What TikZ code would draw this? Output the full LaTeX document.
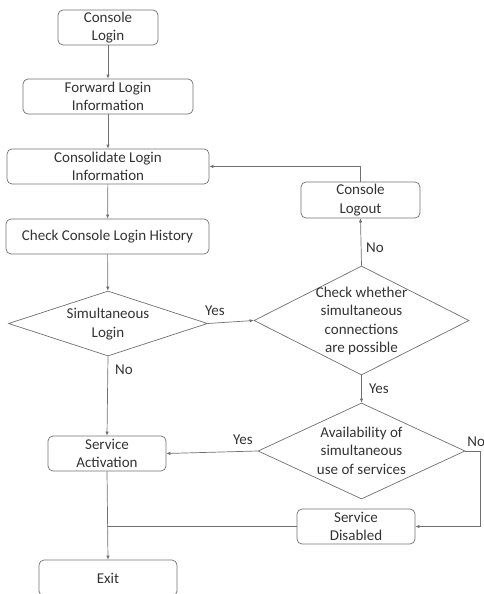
\documentclass[tikz,border=0pt]{standalone}
\usepackage{fontspec}
\setmainfont{Carlito}
\usetikzlibrary{shapes.geometric,arrows.meta}
\definecolor{lineg}{HTML}{707070}
\definecolor{textg}{HTML}{333333}
% text of a decision, kept out of the size of its diamond
\newcommand{\dtext}[1]{\makebox[0pt]{\raisebox{-0.3em}[0pt][0pt]{\begin{tabular}{@{}c@{}}#1\end{tabular}}}}
\begin{document}
\begin{tikzpicture}[x=1pt,y=-1pt, line width=0.7pt,
    font=\fontsize{15}{18.5}\selectfont, text=textg,
    stepbox/.style={draw=lineg, rounded corners=5pt, align=center, inner sep=0pt},
    choice/.style={draw=lineg, diamond, inner sep=0pt},
    flow/.style={draw=lineg, -{Latex[length=4pt,width=3.5pt]}}]
    % picture frame (bottom of Exit box is cut off)
    \useasboundingbox (0,0) rectangle (484,594);
    \clip (0,0) rectangle (484,594);

    % left column
    \node[stepbox, minimum width=100pt, minimum height=35pt] (login) at (108,27.5) {Console\\Login};
    \node[stepbox, minimum width=170pt, minimum height=35pt] (fwd) at (108,96.5) {Forward Login\\Information};
    \node[stepbox, minimum width=202pt, minimum height=35pt] (consol) at (108,166.5) {Consolidate Login\\Information};
    \node[stepbox, minimum width=203pt, minimum height=35pt] (hist) at (107.5,236.5) {Check Console Login History};
    \node[choice, minimum width=199pt, minimum height=65pt] (simul) at (108,323.5) {\dtext{Simultaneous\\Login}};
    \node[stepbox, minimum width=118pt, minimum height=35pt] (activ) at (107,453.5) {Service\\Activation};
    \node[stepbox, minimum width=138pt, minimum height=36pt] (exit) at (108,578) {Exit};

    % right column
    \node[stepbox, minimum width=119pt, minimum height=36pt] (logout) at (360.5,200) {Console\\Logout};
    \node[choice, minimum width=215pt, minimum height=109pt] (check) at (361.5,320.5) {\dtext{Check whether\\simultaneous\\connections\\are possible}};
    \node[choice, minimum width=207pt, minimum height=96pt] (avail) at (361.5,451) {\dtext{Availability of\\simultaneous\\use of services}};
    \node[stepbox, minimum width=118pt, minimum height=35pt] (disab) at (356,526.5) {Service\\Disabled};

    % connectors
    \draw[flow] (login) -- (fwd);
    \draw[flow] (fwd) -- (consol);
    \draw[flow] (consol) -- (hist);
    \draw[flow] (hist) -- (simul);
    \draw[flow] (simul.east) -- (check.west);
    \draw[flow] (check.north) -- (logout.south);
    \draw[flow] (logout.north) |- (consol.east);
    \draw[flow] (check.south) -- (avail.north);
    \draw[flow] (simul.south) -- (activ.north);
    \draw[flow] (avail.west) -- (activ.east);
    \coordinate (turn) at (480,451);
    \draw[flow] (avail.east) -- (turn) |- (disab.east);
    \draw[draw=lineg] (disab.west) -- (activ.south |- disab.west);
    \draw[flow] (activ.south) -- (exit.north);

    % labels
    \node at (215,311) {Yes};
    \node at (375,248) {No};
    \node at (379,389) {Yes};
    \node at (124,370) {No};
    \node at (243,440) {Yes};
    \node[anchor=west, inner sep=0pt] at (467,442) {No};
\end{tikzpicture}
\end{document}
